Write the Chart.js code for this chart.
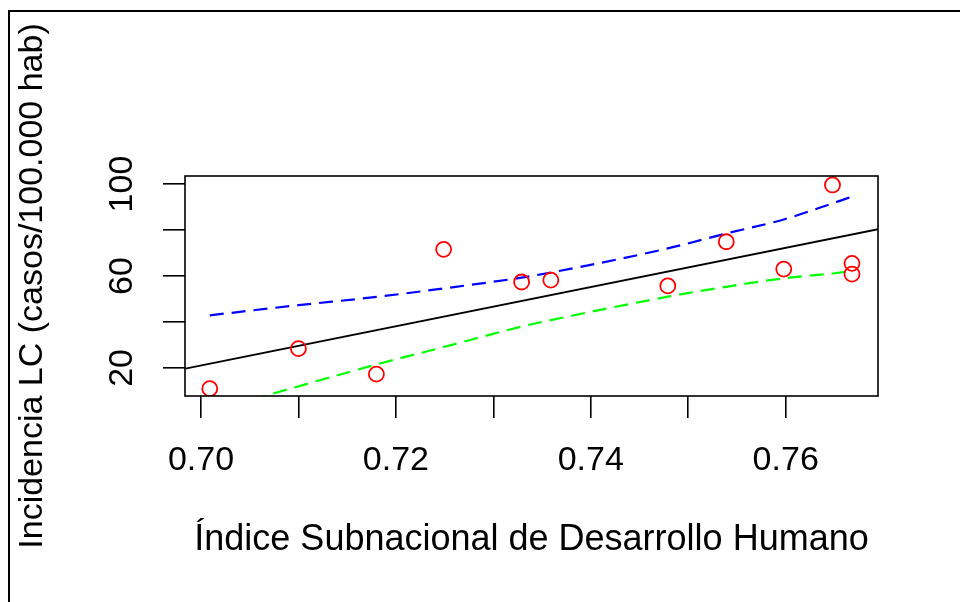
<!DOCTYPE html>
<html>
<head>
<meta charset="utf-8">
<script src="https://cdn.jsdelivr.net/npm/chart.js@4.4.0/dist/chart.umd.min.js"></script>
<style>
  html, body { margin: 0; padding: 0; background: #fff; }
  body { width: 960px; height: 602px; position: relative; overflow: hidden; }
  #frame { position: absolute; left: 8px; top: 10px; width: 1000px; height: 700px;
           border-left: 2px solid #000; border-top: 2px solid #000; }
  #wrap { position: absolute; left: 0; top: 0; width: 960px; height: 602px; }
</style>
</head>
<body>
<div id="frame"></div>
<div id="wrap"><canvas id="chart"></canvas></div>
<script>
// observed points
const idhX = [0.7009, 0.7100, 0.7180, 0.7249, 0.7329, 0.7359, 0.7479, 0.7539, 0.7598, 0.7648, 0.7668, 0.7668];
const incidencia = [11.0, 28.4, 17.3, 71.6, 57.4, 58.2, 55.7, 74.9, 63.0, 99.6, 65.5, 60.8];

// regression line (spans the whole plot)
const fitX = [0.6984, 0.7695];
const fitY = [19.7, 80.4];

// upper / lower dashed curves
const bandX = [0.7009, 0.7100, 0.7180, 0.7249, 0.7329, 0.7359, 0.7479, 0.7539, 0.7598, 0.7648, 0.7668];
const upper = [42.9, 47.3, 50.9, 54.6, 59.3, 61.5, 72.0, 78.5, 84.6, 91.6, 94.5];
const lower = [1.0, 12.0, 21.5, 29.1, 38.0, 40.8, 51.0, 55.3, 59.0, 61.1, 62.1];

const xTicks = [0.70, 0.71, 0.72, 0.73, 0.74, 0.75, 0.76];
const xTickLabels = ['0.70', '', '0.72', '', '0.74', '', '0.76'];
const yTicks = [20, 40, 60, 80, 100];
const yTickLabels = ['20', '', '60', '', '100'];

const FONT = 'Liberation Sans, Arial, Helvetica, sans-serif';

const pts = (xs, ys) => xs.map((x, i) => ({x: x, y: ys[i]}));

const boxPlugin = {
  id: 'box',
  afterDraw(chart) {
    const a = chart.chartArea;
    const ctx = chart.ctx;
    ctx.save();
    ctx.strokeStyle = '#000';
    ctx.lineWidth = 1.6;
    ctx.strokeRect(a.left, a.top, a.right - a.left, a.bottom - a.top);
    ctx.restore();
  }
};

new Chart(document.getElementById('chart'), {
  type: 'scatter',
  data: {
    datasets: [
      {
        data: pts(idhX, incidencia),
        pointStyle: 'circle',
        pointRadius: 7.5,
        pointBorderWidth: 1.8,
        pointBorderColor: '#ff0000',
        pointBackgroundColor: 'rgba(0,0,0,0)',
        showLine: false
      },
      {
        data: pts(fitX, fitY),
        showLine: true,
        borderColor: '#000',
        borderWidth: 1.9,
        pointRadius: 0
      },
      {
        data: pts(bandX, upper),
        showLine: true,
        borderColor: '#0000ff',
        borderWidth: 2.2,
        borderDash: [14, 8],
        pointRadius: 0,
        cubicInterpolationMode: 'monotone'
      },
      {
        data: pts(bandX, lower),
        showLine: true,
        borderColor: '#00ff00',
        borderWidth: 2.2,
        borderDash: [14, 8],
        pointRadius: 0,
        cubicInterpolationMode: 'monotone'
      }
    ]
  },
  options: {
    responsive: true,
    maintainAspectRatio: false,
    animation: false,
    layout: { padding: { left: 0, top: 176, right: 82, bottom: 0 } },
    plugins: { legend: { display: false }, tooltip: { enabled: false } },
    scales: {
      x: {
        type: 'linear',
        min: 0.69836,
        max: 0.76947,
        afterBuildTicks(scale) { scale.ticks = xTicks.map(v => ({value: v})); },
        afterFit(scale) { scale.height = 206; },
        grid: { drawOnChartArea: false, drawTicks: true, tickLength: 22, color: '#000', lineWidth: 1.6 },
        border: { display: false },
        ticks: {
          autoSkip: false, maxRotation: 0, padding: 22,
          color: '#000', font: { family: FONT, size: 34 },
          callback: (v, i) => xTickLabels[i]
        },
        title: {
          display: true,
          text: 'Índice Subnacional de Desarrollo Humano',
          color: '#000',
          font: { family: FONT, size: 36 },
          padding: { top: 0, bottom: 40 }
        }
      },
      y: {
        type: 'linear',
        min: 7.8,
        max: 103.5,
        afterBuildTicks(scale) { scale.ticks = yTicks.map(v => ({value: v})); },
        afterFit(scale) { scale.width = 185; },
        grid: { drawOnChartArea: false, drawTicks: true, tickLength: 22, color: '#000', lineWidth: 1.6 },
        border: { display: false },
        ticks: {
          autoSkip: false, minRotation: 90, maxRotation: 90, padding: 12,
          crossAlign: 'center',
          color: '#000', font: { family: FONT, size: 34 },
          callback: (v, i) => yTickLabels[i]
        },
        title: {
          display: true,
          text: 'Incidencia LC (casos/100.000 hab)',
          color: '#000',
          font: { family: FONT, size: 34 },
          padding: { top: 12, bottom: 0 }
        }
      }
    }
  },
  plugins: [boxPlugin]
});
</script>
</body>
</html>
